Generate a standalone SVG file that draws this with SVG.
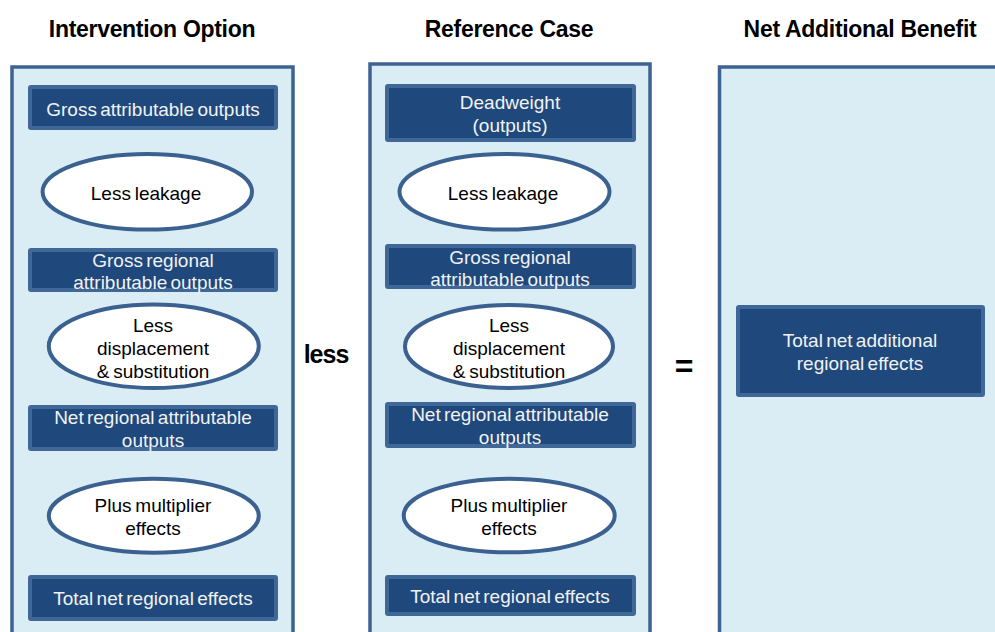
<svg xmlns="http://www.w3.org/2000/svg" width="995" height="632" viewBox="0 0 995 632">
<style>
.panel{fill:#daedf4;stroke:#3d6392;stroke-width:3.5}
.box{fill:#1f497d;stroke:#3f6898;stroke-width:4}
.ell{fill:#ffffff;stroke:#3b6190;stroke-width:4}
.title{font-family:"Liberation Sans",Arial,sans-serif;font-weight:bold;font-size:23px;letter-spacing:-0.3px;fill:#000;text-anchor:middle}
.op{font-family:"Liberation Sans",Arial,sans-serif;font-weight:bold;fill:#000;text-anchor:middle}
.bt{font-family:"Liberation Sans",Arial,sans-serif;font-size:19px;word-spacing:-2px;fill:#f2f2f2;text-anchor:middle}
.et{font-family:"Liberation Sans",Arial,sans-serif;font-size:19px;word-spacing:-1.5px;fill:#000;text-anchor:middle}
</style>
<rect width="995" height="632" fill="#ffffff"/>
<g id="titles">
<text class="title" x="152" y="37">Intervention Option</text>
<text class="title" x="509" y="37">Reference Case</text>
<text class="title" x="860" y="37">Net Additional Benefit</text>
</g>
<g id="panel-intervention">
<rect class="panel" x="12" y="67" width="281" height="620"/>
</g>
<g id="panel-reference">
<rect class="panel" x="370" y="64" width="280" height="620"/>
</g>
<g id="panel-net">
<rect class="panel" x="719.5" y="67" width="400" height="620"/>
</g>
<g id="connectors">
<text class="op" x="326" y="363" font-size="25" letter-spacing="-1">less</text>
<text class="op" x="684" y="377" font-size="32">=</text>
</g>
<g id="int-gross">
<rect class="box" x="30" y="87" width="246" height="41" rx="1"/>
<text class="bt" x="153" y="116">Gross attributable outputs</text>
</g>
<g id="int-leakage">
<ellipse class="ell" cx="147.3" cy="191.8" rx="104.7" ry="37.8"/>
<text class="et" x="146" y="200">Less leakage</text>
</g>
<g id="int-gross-regional">
<rect class="box" x="30" y="250" width="246" height="40" rx="1"/>
<text class="bt" x="153" y="266.5">Gross regional</text>
<text class="bt" x="153" y="288.5">attributable outputs</text>
</g>
<g id="int-displacement">
<ellipse class="ell" cx="153.8" cy="346.2" rx="105" ry="41.8"/>
<text class="et" x="153" y="331.5">Less</text>
<text class="et" x="153" y="354.5">displacement</text>
<text class="et" x="153" y="377.5">&amp; substitution</text>
</g>
<g id="int-net-regional">
<rect class="box" x="30" y="407" width="246" height="42" rx="1"/>
<text class="bt" x="153" y="424">Net regional attributable</text>
<text class="bt" x="153" y="446.5">outputs</text>
</g>
<g id="int-multiplier">
<ellipse class="ell" cx="153.8" cy="515.8" rx="105" ry="37"/>
<text class="et" x="153" y="511.5">Plus multiplier</text>
<text class="et" x="153" y="534.5">effects</text>
</g>
<g id="int-total">
<rect class="box" x="30" y="577" width="246" height="42" rx="1"/>
<text class="bt" x="153" y="605">Total net regional effects</text>
</g>
<g id="ref-deadweight">
<rect class="box" x="387" y="86" width="247" height="54" rx="1"/>
<text class="bt" x="510" y="109">Deadweight</text>
<text class="bt" x="510" y="132">(outputs)</text>
</g>
<g id="ref-leakage">
<ellipse class="ell" cx="504.5" cy="191.8" rx="105" ry="37.8"/>
<text class="et" x="503" y="200">Less leakage</text>
</g>
<g id="ref-gross-regional">
<rect class="box" x="387" y="246" width="247" height="41" rx="1"/>
<text class="bt" x="510" y="263.5">Gross regional</text>
<text class="bt" x="510" y="285.5">attributable outputs</text>
</g>
<g id="ref-displacement">
<ellipse class="ell" cx="509" cy="346.5" rx="104" ry="41.5"/>
<text class="et" x="509" y="332">Less</text>
<text class="et" x="509" y="355">displacement</text>
<text class="et" x="509" y="378">&amp; substitution</text>
</g>
<g id="ref-net-regional">
<rect class="box" x="387" y="404" width="247" height="42" rx="1"/>
<text class="bt" x="510" y="421">Net regional attributable</text>
<text class="bt" x="510" y="443.5">outputs</text>
</g>
<g id="ref-multiplier">
<ellipse class="ell" cx="509.2" cy="515.5" rx="105.5" ry="36.8"/>
<text class="et" x="509" y="511.5">Plus multiplier</text>
<text class="et" x="509" y="534.5">effects</text>
</g>
<g id="ref-total">
<rect class="box" x="387" y="577" width="247" height="37" rx="1"/>
<text class="bt" x="510" y="602.5">Total net regional effects</text>
</g>
<g id="net-total">
<rect class="box" x="738" y="307" width="245" height="88" rx="1"/>
<text class="bt" x="860" y="347">Total net additional</text>
<text class="bt" x="860" y="370">regional effects</text>
</g>
</svg>
